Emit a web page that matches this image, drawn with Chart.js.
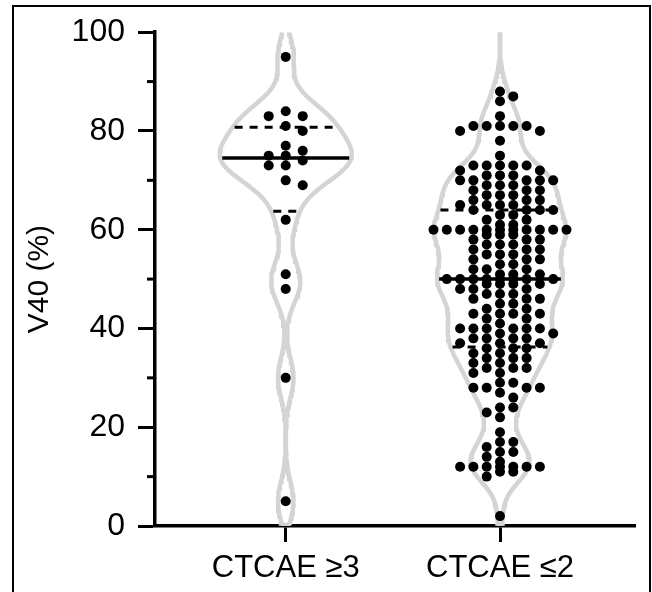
<!DOCTYPE html>
<html>
<head>
<meta charset="utf-8">
<script src="https://cdn.jsdelivr.net/npm/chart.js@4.4.0/dist/chart.umd.min.js"></script>
<style>
  html, body { margin: 0; padding: 0; background: #fff; overflow: hidden; }
  #wrap { position: relative; width: 652px; height: 592px; }
  #frame { position: absolute; left: 12px; top: 5px; width: 639px; height: 620px;
           border: 2.5px solid #000; box-sizing: border-box; pointer-events: none; }
</style>
</head>
<body>
<div id="wrap">
  <canvas id="violinChart" width="652" height="592"></canvas>
  <div id="frame"></div>
</div>
<script>
// V40 values per toxicity group
var groupLabels = ['CTCAE ≥3', 'CTCAE ≤2'];
var majorTicks = [0, 20, 40, 60, 80, 100];
var minorTicks = [10, 30, 50, 70, 90];

var highGrade = [95, 84, 83, 83, 81, 80, 77, 76, 75, 75, 74, 73, 73, 70, 69, 62, 51, 48, 30, 5];

var lowGrade = [
  88, 87, 86, 83,
  81, 81, 81, 81, 81, 80, 80, 78, 75,
  73, 73, 73, 73, 73, 72, 72, 71, 71, 71,
  70, 70, 70, 70, 70, 69, 69, 69, 68, 68, 68,
  67, 67, 67, 66, 66, 66, 65, 65, 65, 65,
  64, 64, 64, 64, 63, 63, 62, 62, 61, 61,
  60, 60, 60, 60, 60, 60, 60, 60, 60, 60, 60,
  59, 59, 59, 58, 58, 58, 57, 57, 57,
  56, 56, 56, 55, 55, 55, 54, 54, 54,
  53, 53, 52, 52, 52, 51, 51, 51,
  50, 50, 50, 50, 50, 50, 50, 50,
  49, 49, 49, 49, 48, 48, 48, 47, 47, 47,
  46, 46, 46, 45, 45, 44, 44,
  43, 43, 43, 43, 42, 42, 41,
  40, 40, 40, 40, 40, 40, 39, 39,
  38, 38, 38, 38, 37, 37, 37, 36, 36, 36, 35, 35,
  34, 34, 34, 33, 33, 32, 32, 32, 31, 31,
  29, 29, 28, 28, 28, 28, 27, 26, 24, 24, 23, 22,
  19, 17, 17, 16, 15, 15, 14, 13,
  12, 12, 12, 12, 12, 12, 12, 11, 11, 10, 2
];

var groups = [highGrade, lowGrade];
var bandwidth = [4, 3.6];
var colStep = [17, 13.3];     // px between dot columns
var rowGap = 9;               // px two dots in one column try to keep apart
var violinHalf = 66;          // px, widest part of each violin

function quantile(sorted, p) {
  var pos = (sorted.length + 1) * p - 1;
  var lo = Math.max(0, Math.floor(pos));
  var hi = Math.min(sorted.length - 1, Math.ceil(pos));
  return sorted[lo] + (sorted[hi] - sorted[lo]) * (pos - lo);
}

function kde(values, h, v) {
  var s = 0;
  values.forEach(function(x) {
    var d = (v - x) / h;
    s += Math.exp(-0.5 * d * d);
  });
  return s;
}

// columns fan out from the centre up to the violin edge (three at least);
// when every column is taken the dot goes where its nearest neighbour is farthest
function swarm(values, center, stepPx, halfPx, pxX, pxY) {
  var sorted = values.slice().sort(function(a, b) { return b - a; });
  var placed = [];
  return sorted.map(function(v) {
    var maxCol = Math.max(3, Math.floor((halfPx(v) + 2) / stepPx));
    var best = null, bestDist = -1;
    for (var k = 0; k <= 2 * maxCol; k++) {
      var col = k === 0 ? 0 : (k % 2 ? (k + 1) / 2 : -k / 2);
      var near = Infinity;
      placed.forEach(function(p) {
        if (p.col === col) near = Math.min(near, Math.abs(p.v - v) * pxY);
      });
      if (near >= rowGap) { best = col; break; }
      if (near > bestDist) { bestDist = near; best = col; }
    }
    placed.push({ col: best, v: v });
    return { x: center + best * stepPx / pxX, y: v };
  });
}

function lineSet(points, width, dash) {
  return {
    data: points, showLine: true, pointRadius: 0, borderColor: '#000',
    borderWidth: width, borderDash: dash || [], fill: false, tension: 0
  };
}

function buildMarks(chart) {
  var xs = chart.scales.x, ys = chart.scales.y;
  var pxX = xs.getPixelForValue(2) - xs.getPixelForValue(1);
  var pxY = ys.getPixelForValue(0) - ys.getPixelForValue(1);
  var dots = [], stats = [], outlines = [];

  groups.forEach(function(vals, g) {
    var center = g + 1;
    var h = bandwidth[g];
    var peak = 0, grid = [];
    for (var v = 0; v <= 100; v += 0.5) {
      var d = kde(vals, h, v);
      grid.push({ v: v, d: d });
      if (d > peak) peak = d;
    }
    var halfPx = function(v) { return violinHalf * kde(vals, h, v) / peak; };

    [-1, 1].forEach(function(side) {
      outlines.push({
        data: grid.map(function(p) {
          var w = p.v === 0 ? 0 : violinHalf * p.d / peak;
          return { x: center + side * w / pxX, y: p.v };
        }),
        showLine: true, pointRadius: 0, borderColor: '#d4d4d4',
        borderWidth: 4.5, fill: false, tension: 0
      });
    });

    var sorted = vals.slice().sort(function(a, b) { return a - b; });
    var med = quantile(sorted, 0.5), q1 = quantile(sorted, 0.25), q3 = quantile(sorted, 0.75);
    var span = function(q) { return (halfPx(q) - 2) / pxX; };
    stats.push(lineSet([{ x: center - span(med), y: med }, { x: center + span(med), y: med }], 3.5));
    [q1, q3].forEach(function(q) {
      stats.push(lineSet([{ x: center - span(q), y: q }, { x: center + span(q), y: q }], 3, [8, 7]));
    });

    dots.push({
      data: swarm(vals, center, colStep[g], halfPx, pxX, pxY),
      pointRadius: 5, pointBackgroundColor: '#000', pointBorderWidth: 0, showLine: false
    });
  });

  // first datasets are painted last, so dots end up on top of the violins
  chart.data.datasets = dots.concat(stats, outlines);
  chart.update('none');
}

var minorTickPlugin = {
  id: 'minorTicks',
  afterDraw: function(chart) {
    var ys = chart.scales.y, c = chart.ctx;
    c.save();
    c.strokeStyle = '#000';
    c.lineWidth = 3;
    minorTicks.forEach(function(v) {
      var py = ys.getPixelForValue(v);
      c.beginPath();
      c.moveTo(ys.right - 8, py);
      c.lineTo(ys.right, py);
      c.stroke();
    });
    c.restore();
  }
};

var font = '"Liberation Sans", Arial, Helvetica, sans-serif';
var ctx = document.getElementById('violinChart').getContext('2d');

var chart = new Chart(ctx, {
  type: 'scatter',
  data: { datasets: [] },
  options: {
    responsive: false,
    animation: false,
    layout: { padding: { left: 0, top: 30, right: 17, bottom: 0 } },
    plugins: { legend: { display: false }, tooltip: { enabled: false } },
    scales: {
      x: {
        type: 'linear', min: 0.39, max: 2.63,
        afterFit: function(s) { s.height = 66; },
        afterBuildTicks: function(s) {
          s.ticks = groupLabels.map(function(_, i) { return { value: i + 1 }; });
        },
        ticks: {
          padding: 8, color: '#000', font: { family: font, size: 31 },
          callback: function(v) { return groupLabels[v - 1] || ''; }
        },
        grid: { drawOnChartArea: false, tickLength: 16, tickWidth: 3, tickColor: '#000' },
        border: { display: true, color: '#000', width: 3.5 }
      },
      y: {
        min: 0, max: 100,
        afterFit: function(s) { s.width = 155; },
        afterBuildTicks: function(s) {
          s.ticks = majorTicks.map(function(v) { return { value: v }; });
        },
        ticks: { padding: 13, color: '#000', font: { family: font, size: 32 } },
        grid: { drawOnChartArea: false, tickLength: 17, tickWidth: 3, tickColor: '#000' },
        border: { display: true, color: '#000', width: 3.5 },
        title: {
          display: true, text: 'V40 (%)', color: '#000',
          font: { family: font, size: 30 }, padding: { top: 22, bottom: 0 }
        }
      }
    }
  },
  plugins: [minorTickPlugin]
});

buildMarks(chart);
</script>
</body>
</html>
